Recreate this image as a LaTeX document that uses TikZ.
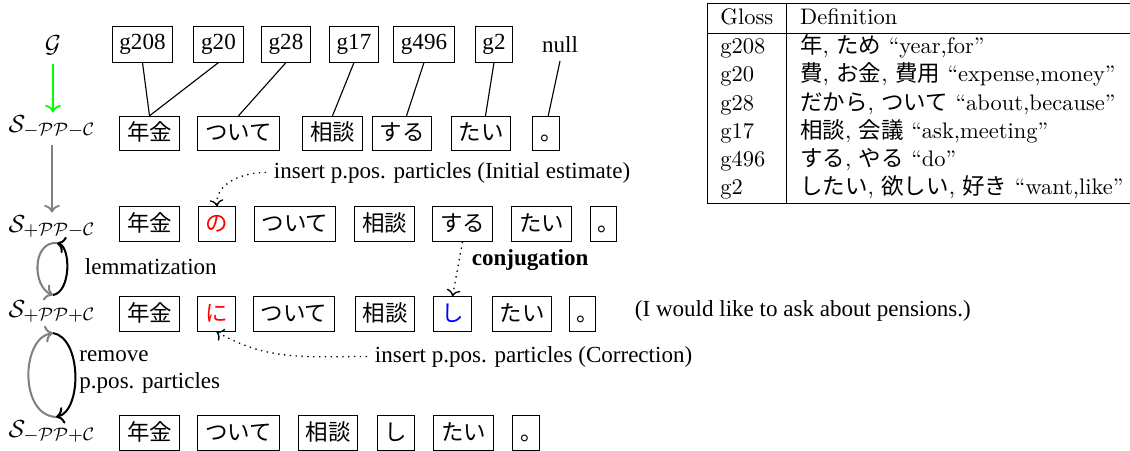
\documentclass[tikz,border=0pt]{standalone}
\usepackage{fontspec}
\newfontfamily\tm{Liberation Serif}
\newfontfamily\jp{Noto Sans CJK JP}
\usetikzlibrary{arrows.meta}
\newcommand\J[1]{{\jp #1}}
\newcommand\tmsz{\tm\fontsize{10.25}{12.3}\selectfont}
\begin{document}
\begin{tikzpicture}[x=0.445pt,y=0.445pt,
  every node/.style={font=\tmsz},
  gbox/.style={draw, line width=0.45pt, inner xsep=3.3pt, inner ysep=0pt, text height=7pt, text depth=2.2pt, minimum height=15.6pt},
  wbox/.style={draw, line width=0.45pt, font=\jp, inner xsep=3.3pt, inner ysep=0pt, text height=8.3pt, text depth=1.7pt, minimum height=15.3pt},
  lab/.style={inner sep=0pt, anchor=base, font=\fontsize{11}{13}\selectfont},
  gline/.style={line width=0.5pt},
  dotarr/.style={dotted, line width=0.6pt, ->},
  loopg/.style={gray, line width=0.9pt, ->},
  loopk/.style={black, line width=0.9pt, ->},
]
\useasboundingbox (0,0) rectangle (1130,-450);

% table
\node[anchor=north west, inner sep=0pt, font=\rmfamily] (tab) at (706.5,-3) {\renewcommand\arraystretch{1.05}%
\begin{tabular}{|l|l}\hline
Gloss & Definition\\\hline
g208 & \J{年}, \J{ため} “year,for”\\
g20 & \J{費}, \J{お金}, \J{費用} “expense,money”\\
g28 & \J{だから}, \J{ついて} “about,because”\\
g17 & \J{相談}, \J{会議} “ask,meeting”\\
g496 & \J{する}, \J{やる} “do”\\
g2 & \J{したい}, \J{欲しい}, \J{好き} “want,like”\\\hline
\end{tabular}};

% left labels
\node[lab] (G) at (53,-52) {$\mathcal{G}$};
\node[lab] (s1) at (52,-132) {$\mathcal{S}_{-\mathcal{PP}-\mathcal{C}}$};
\node[lab] (s2) at (52,-232) {$\mathcal{S}_{+\mathcal{PP}-\mathcal{C}}$};
\node[lab] (s3) at (52,-317) {$\mathcal{S}_{+\mathcal{PP}+\mathcal{C}}$};
\node[lab] (s4) at (52,-437) {$\mathcal{S}_{-\mathcal{PP}+\mathcal{C}}$};

\draw[green, line width=0.8pt, ->] ([yshift=-4pt]G.south) -- ([yshift=1pt]G.south |- s1.north);
\draw[gray, line width=0.8pt, ->] ([yshift=-3pt]s1.south) -- ([yshift=1pt]s1.south |- s2.north);

% glosses
\node[gbox] (g208) at (142.5,-44.5) {g208};
\node[gbox] (g20) at (218.5,-44.5) {g20};
\node[gbox] (g28) at (286,-44.5) {g28};
\node[gbox] (g17) at (354,-44.5) {g17};
\node[gbox] (g496) at (424,-44.5) {g496};
\node[gbox] (g2) at (494,-44.5) {g2};
\node (null) at (560,-45) {null};

% row 1
\node[wbox] (nk1) at (149.5,-133.5) {年金};
\node[wbox] (ts1) at (238.5,-133.5) {ついて};
\node[wbox] (sd1) at (332.5,-133.5) {相談};
\node[wbox] (su1) at (402,-133.5) {する};
\node[wbox] (ta1) at (481,-133.5) {たい};
\node[wbox] (mr1) at (546,-133.5) {\makebox[5pt][l]{。}};

% row 2
\node[wbox] (nk2) at (149.5,-224) {年金};
\node[wbox, text=red] (no2) at (217,-224) {の};
\node[wbox] (ts2) at (295,-224) {ついて};
\node[wbox] (sd2) at (384.5,-224) {相談};
\node[wbox] (su2) at (462.5,-224) {する};
\node[wbox] (ta2) at (541.5,-224) {たい};
\node[wbox] (mr2) at (603.5,-224) {\makebox[5pt][l]{。}};

% row 3
\node[wbox] (nk3) at (149.5,-314) {年金};
\node[wbox, text=red] (ni3) at (216.5,-314) {に};
\node[wbox] (ts3) at (294,-314) {ついて};
\node[wbox] (sd3) at (385,-314) {相談};
\node[wbox, text=blue] (sh3) at (452.5,-314) {し};
\node[wbox] (ta3) at (522,-314) {たい};
\node[wbox] (mr3) at (582.5,-314) {\makebox[5pt][l]{。}};

% row 4
\node[wbox] (nk4) at (149.5,-433) {年金};
\node[wbox] (ts4) at (238.5,-433) {ついて};
\node[wbox] (sd4) at (328,-433) {相談};
\node[wbox] (sh4) at (396,-433) {し};
\node[wbox] (ta4) at (463.5,-433) {たい};
\node[wbox] (mr4) at (526,-433) {\makebox[5pt][l]{。}};

% gloss links
\draw[gline] (g208.south) -- (nk1.north);
\draw[gline] (g20.south) -- (nk1.north);
\draw[gline] (g28.south) -- (ts1.north);
\draw[gline] (g17.south) -- (sd1.north);
\draw[gline] (g496.south) -- ([xshift=2pt]su1.north);
\draw[gline] (g2.south) -- ([xshift=2pt]ta1.north);
\draw[gline] (null.south) -- ([xshift=1pt]mr1.north);

% texts
\node[anchor=base west] (ins1) at (266,-178) {insert p.pos. particles (Initial estimate)};
\node[anchor=base west, font=\tmsz\bfseries] (conj) at (464,-265) {conjugation};
\node[anchor=base west] (lem) at (77,-274) {lemmatization};
\node[anchor=base west] (eng) at (627,-316) {(I would like to ask about pensions.)};
\node[anchor=base west] (ins2) at (367,-362) {insert p.pos. particles (Correction)};
\node[anchor=north west, align=left, inner sep=0pt] (rem) at (79,-350) {remove\\p.pos. particles};

% dotted arrows
\draw[dotarr] (ins1.west) to[out=180,in=95] (no2.north);
\draw[dotarr] (su2.south) -- (sh3.north);
\draw[dotarr] (ins2.west) to[out=180,in=-30] (ni3.south);

% loops
\draw[loopg] ([shift={(5,-11)}]s2.base) .. controls +(-25,2) and +(-21,8) .. ([shift={(1,22)}]s3.base);
\draw[loopk] ([shift={(1,22)}]s3.base) .. controls +(18,3) and +(14,-4) .. ([shift={(5,-11)}]s2.base);
\draw[loopg] ([shift={(4,20)}]s4.base) .. controls +(-37,2) and +(-32,-5) .. ([shift={(1,-16)}]s3.base);
\draw[loopk] ([shift={(1,-16)}]s3.base) .. controls +(29,-5) and +(26,6) .. ([shift={(4,20)}]s4.base);
\end{tikzpicture}
\end{document}
